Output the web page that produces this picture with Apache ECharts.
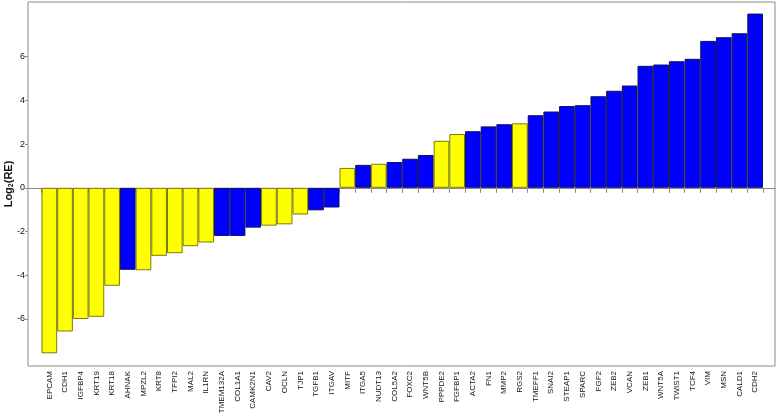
<!DOCTYPE html>
<html>
<head>
<meta charset="utf-8">
<script src="https://cdn.jsdelivr.net/npm/echarts@6/dist/echarts.min.js"></script>
<style>
  html, body { margin: 0; padding: 0; background: #fff; }
  #chart { width: 778px; height: 413px; }
</style>
</head>
<body>
<div id="chart"></div>
<script>
// genes in plot order
const genes = [
  'EPCAM', 'CDH1', 'IGFBP4', 'KRT19', 'KRT18', 'AHNAK', 'MPZL2', 'KRT8', 'TFPI2', 'MAL2',
  'IL1RN', 'TMEM132A', 'COL1A1', 'CAMK2N1', 'CAV2', 'OCLN', 'TJP1', 'TGFB1', 'ITGAV', 'MITF',
  'ITGA5', 'NUDT13', 'COL5A2', 'FOXC2', 'WNT5B', 'PPPDE2', 'FGFBP1', 'ACTA2', 'FN1', 'MMP2',
  'RGS2', 'TMEFF1', 'SNAI2', 'STEAP1', 'SPARC', 'FGF2', 'ZEB2', 'VCAN', 'ZEB1', 'WNT5A',
  'TWIST1', 'TCF4', 'VIM', 'MSN', 'CALD1', 'CDH2'
]

// log2 relative expression
const log2RE = [
  -7.57, -6.57, -6.0, -5.9, -4.48, -3.75, -3.77, -3.11, -2.99, -2.67,
  -2.5, -2.2, -2.2, -1.82, -1.73, -1.67, -1.22, -1.03, -0.9, 0.91,
  1.05, 1.1, 1.18, 1.33, 1.5, 2.15, 2.46, 2.59, 2.81, 2.91,
  2.95, 3.32, 3.49, 3.74, 3.78, 4.19, 4.44, 4.68, 5.58, 5.64,
  5.79, 5.9, 6.72, 6.89, 7.07, 7.97
]

// group per gene: 'Y' = yellow, 'B' = blue
const group = [
  'Y', 'Y', 'Y', 'Y', 'Y', 'B', 'Y', 'Y', 'Y', 'Y',
  'Y', 'B', 'B', 'B', 'Y', 'Y', 'Y', 'B', 'B', 'Y',
  'B', 'Y', 'B', 'B', 'B', 'Y', 'Y', 'B', 'B', 'B',
  'Y', 'B', 'B', 'B', 'B', 'B', 'B', 'B', 'B', 'B',
  'B', 'B', 'B', 'B', 'B', 'B'
]

const yTicks = [-6, -4, -2, 0, 2, 4, 6]
const yMin = -8.15
const yMax = 8.5

const fill = { Y: '#ffff00', B: '#0000ff' }
const edge = { Y: '#7a7a10', B: '#10105a' }

const chart = echarts.init(document.getElementById('chart'))

const option = {
  backgroundColor: '#fff',
  animation: false,
  grid: [
    { left: 41.5, right: 15, top: 2, bottom: 47, outerBoundsMode: 'none', containLabel: false },
    {
      left: 28, right: 3, top: 2, bottom: 47, outerBoundsMode: 'none', containLabel: false,
      show: true, borderColor: '#8a8a8a', borderWidth: 1, backgroundColor: 'transparent'
    }
  ],
  xAxis: [
    {
      type: 'category',
      gridIndex: 0,
      data: genes,
      boundaryGap: true,
      axisLine: { show: false },
      axisTick: { show: true, length: 5, lineStyle: { color: '#8a8a8a' } },
      axisLabel: {
        interval: 0,
        rotate: 90,
        margin: 5,
        fontFamily: 'Liberation Sans, Arial, sans-serif',
        fontSize: 8,
        color: '#111'
      },
      splitLine: { show: false }
    },
    {
      type: 'value',
      gridIndex: 1,
      min: 0,
      max: 1,
      axisLine: { show: true, onZero: true, lineStyle: { color: '#8a8a8a', width: 1 } },
      axisTick: { show: false },
      axisLabel: { show: false },
      splitLine: { show: false }
    }
  ],
  yAxis: [
    {
      type: 'value',
      gridIndex: 0,
      min: yMin,
      max: yMax,
      show: false
    },
    {
      type: 'value',
      gridIndex: 1,
      min: yMin,
      max: yMax,
      name: '{a|Log}{b|2}{a|(RE)}',
      nameLocation: 'middle',
      nameGap: 13,
      nameRotate: 90,
      nameMoveOverlap: false,
      nameTextStyle: {
        rich: {
          a: { fontFamily: 'Liberation Sans, Arial, sans-serif', fontSize: 11, fontWeight: 'bold', color: '#111' },
          b: { fontFamily: 'Liberation Sans, Arial, sans-serif', fontSize: 7, fontWeight: 'bold', color: '#111', verticalAlign: 'bottom', padding: [5, 0, 0, 0] }
        }
      },
      axisLine: { show: false },
      axisTick: { show: true, length: 3, customValues: yTicks, lineStyle: { color: '#8a8a8a' } },
      axisLabel: {
        customValues: yTicks,
        margin: 3,
        fontFamily: 'Liberation Sans, Arial, sans-serif',
        fontSize: 9,
        color: '#111'
      },
      splitLine: { show: false }
    }
  ],
  series: [
    {
      type: 'bar',
      xAxisIndex: 0,
      yAxisIndex: 0,
      barCategoryGap: 0,
      data: log2RE.map((v, i) => ({
        value: v,
        itemStyle: { color: fill[group[i]], borderColor: edge[group[i]], borderWidth: 1 }
      }))
    }
  ]
}

chart.setOption(option)
</script>
</body>
</html>
